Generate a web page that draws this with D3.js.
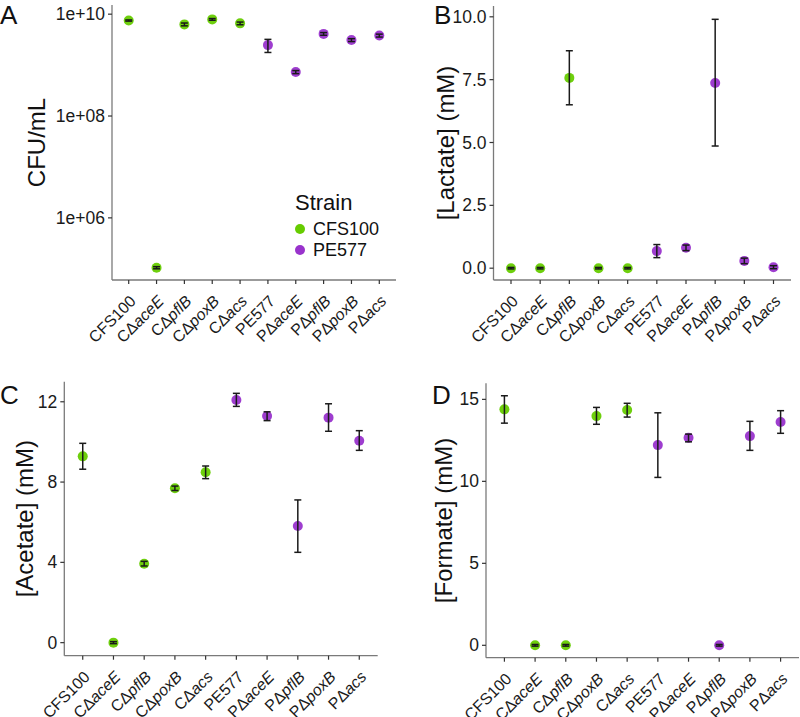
<!DOCTYPE html>
<html>
<head>
<meta charset="utf-8">
<script src="https://cdn.jsdelivr.net/npm/d3@7"></script>
<style>
  html, body { margin: 0; padding: 0; background: #fff; }
  text { font-family: "Liberation Sans", Arial, sans-serif; }
</style>
</head>
<body>
<svg id="chart" width="800" height="717"></svg>
<script>
// ---------------- DATA ----------------
const categories = ["CFS100", "CΔaceE", "CΔpflB", "CΔpoxB", "CΔacs",
                    "PE577", "PΔaceE", "PΔpflB", "PΔpoxB", "PΔacs"];
const strain = ["CFS100", "CFS100", "CFS100", "CFS100", "CFS100",
                "PE577", "PE577", "PE577", "PE577", "PE577"];
const strains = ["CFS100", "PE577"];

// Panel A: CFU/mL
const cfuMean = [7.5e9, 1.05e5, 6.3e9, 7.9e9, 6.6e9, 2.47e9, 7.3e8, 4.1e9, 3.1e9, 3.8e9];
const cfuLow  = [7.3e9, 1.0e5, 5.9e9, 7.6e9, 6.2e9, 1.77e9, 6.8e8, 3.85e9, 2.9e9, 3.55e9];
const cfuHigh = [7.7e9, 1.1e5, 6.7e9, 8.2e9, 7.0e9, 3.2e9, 7.8e8, 4.35e9, 3.3e9, 4.05e9];
const cfuTicks = [1e6, 1e8, 1e10];
const cfuTickLabels = ["1e+06", "1e+08", "1e+10"];

// Panel B: Lactate (mM)
const lacMean = [0, 0, 7.57, 0, 0, 0.68, 0.81, 7.37, 0.29, 0.04];
const lacLow  = [-0.03, -0.03, 6.5, -0.03, -0.03, 0.42, 0.70, 4.86, 0.18, -0.02];
const lacHigh = [0.03, 0.03, 8.65, 0.03, 0.03, 0.94, 0.92, 9.9, 0.40, 0.10];
const lacTicks = [0, 2.5, 5, 7.5, 10];

// Panel C: Acetate (mM)
const aceMean = [9.28, 0, 3.93, 7.69, 8.49, 12.09, 11.29, 5.81, 11.21, 10.06];
const aceLow  = [8.64, -0.05, 3.82, 7.58, 8.17, 11.77, 11.06, 4.50, 10.53, 9.58];
const aceHigh = [9.93, 0.05, 4.05, 7.80, 8.80, 12.42, 11.50, 7.11, 11.90, 10.56];
const aceTicks = [0, 4, 8, 12];

// Panel D: Formate (mM)
const forMean = [14.39, 0, 0, 13.98, 14.35, 12.21, 12.66, 0, 12.76, 13.62];
const forLow  = [13.55, -0.05, -0.05, 13.48, 13.92, 10.24, 12.41, -0.05, 11.89, 12.93];
const forHigh = [15.22, 0.05, 0.05, 14.51, 14.76, 14.18, 12.88, 0.05, 13.66, 14.31];
const forTicks = [0, 5, 10, 15];

// ---------------- DRAWING ----------------
const svg = d3.select("#chart");
const color = d3.scaleOrdinal().domain(strains).range(["#66CC00", "#9933CC"]);

function drawPanel(cfg) {
  const g = svg.append("g");
  const x = d3.scalePoint().domain(categories).range([cfg.left, cfg.right]).padding(0.6);
  const y = cfg.y;

  // axis lines
  g.append("line").attr("x1", cfg.left).attr("x2", cfg.left)
    .attr("y1", cfg.top).attr("y2", cfg.bottom)
    .attr("stroke", "#7a7a7a").attr("stroke-width", 1.3);
  g.append("line").attr("x1", cfg.left).attr("x2", cfg.right)
    .attr("y1", cfg.bottom).attr("y2", cfg.bottom)
    .attr("stroke", "#7a7a7a").attr("stroke-width", 1.3);

  // y ticks
  const yt = g.selectAll(".yt").data(cfg.ticks).enter().append("g")
    .attr("transform", d => `translate(${cfg.left},${y(d)})`);
  yt.append("line").attr("x1", -4).attr("x2", 0).attr("stroke", "#333").attr("stroke-width", 1.2);
  yt.append("text").attr("x", -7).attr("dy", "0.35em").attr("text-anchor", "end")
    .attr("font-size", 17.5).attr("fill", "#1a1a1a")
    .text((d, i) => cfg.tickLabels[i]);

  // x ticks
  const xt = g.selectAll(".xt").data(categories).enter().append("g")
    .attr("transform", d => `translate(${x(d)},${cfg.bottom})`);
  xt.append("line").attr("y1", 0).attr("y2", 4).attr("stroke", "#333").attr("stroke-width", 1.2);
  const lbl = xt.append("text")
    .attr("text-anchor", "end")
    .attr("transform", "translate(0,14) rotate(-45)")
    .attr("dy", "0.72em")
    .attr("font-size", 16).attr("fill", "#1a1a1a");
  lbl.each(function(d) {
    const t = d3.select(this);
    if (d.includes("Δ")) {
      t.append("tspan").text(d.slice(0, 2));
      t.append("tspan").attr("font-style", "italic").text(d.slice(2));
    } else {
      t.text(d);
    }
  });

  // points
  g.selectAll(".pt").data(categories).enter().append("circle")
    .attr("cx", d => x(d)).attr("cy", (d, i) => y(cfg.mean[i]))
    .attr("r", 5).attr("fill", (d, i) => color(strain[i])).attr("fill-opacity", 0.95);

  // error bars
  const eb = g.selectAll(".eb").data(categories).enter().append("g");
  eb.append("line").attr("x1", d => x(d)).attr("x2", d => x(d))
    .attr("y1", (d, i) => y(cfg.low[i])).attr("y2", (d, i) => y(cfg.high[i]))
    .attr("stroke", "#1a1a1a").attr("stroke-width", 1.5);
  eb.append("line").attr("x1", d => x(d) - 3.5).attr("x2", d => x(d) + 3.5)
    .attr("y1", (d, i) => y(cfg.low[i])).attr("y2", (d, i) => y(cfg.low[i]))
    .attr("stroke", "#1a1a1a").attr("stroke-width", 1.5);
  eb.append("line").attr("x1", d => x(d) - 3.5).attr("x2", d => x(d) + 3.5)
    .attr("y1", (d, i) => y(cfg.high[i])).attr("y2", (d, i) => y(cfg.high[i]))
    .attr("stroke", "#1a1a1a").attr("stroke-width", 1.5);

  // y title
  g.append("text")
    .attr("transform", `translate(${cfg.titleX},${(cfg.top + cfg.bottom) / 2}) rotate(-90)`)
    .attr("text-anchor", "middle").attr("dy", "0.35em")
    .attr("font-size", 24).attr("fill", "#111")
    .text(cfg.title);

  // panel letter
  g.append("text").attr("x", cfg.letterX).attr("y", cfg.letterY)
    .attr("font-size", 26).attr("fill", "#111").text(cfg.letter);
}

drawPanel({
  left: 112, right: 396, top: 5, bottom: 280,
  y: d3.scaleLog().domain([Math.pow(10, 4.78), Math.pow(10, 10.18)]).range([280, 5]),
  ticks: cfuTicks, tickLabels: cfuTickLabels,
  mean: cfuMean, low: cfuLow, high: cfuHigh,
  title: "CFU/mL", titleX: 37, letter: "A", letterX: 0, letterY: 24
});

drawPanel({
  left: 493.5, right: 791, top: 6, bottom: 280,
  y: d3.scaleLinear().domain([-0.47, 10.43]).range([280, 6]),
  ticks: lacTicks, tickLabels: lacTicks.map(d3.format(".1f")),
  mean: lacMean, low: lacLow, high: lacHigh,
  title: "[Lactate] (mM)", titleX: 446, letter: "B", letterX: 434, letterY: 24
});

drawPanel({
  left: 64.3, right: 377.7, top: 381.7, bottom: 655.7,
  y: d3.scaleLinear().domain([-0.65, 13.0]).range([655.7, 381.7]),
  ticks: aceTicks, tickLabels: aceTicks.map(String),
  mean: aceMean, low: aceLow, high: aceHigh,
  title: "[Acetate] (mM)", titleX: 25, letter: "C", letterX: 0, letterY: 404
});

drawPanel({
  left: 486, right: 799, top: 383.3, bottom: 657.7,
  y: d3.scaleLinear().domain([-0.756, 15.98]).range([657.7, 383.3]),
  ticks: forTicks, tickLabels: forTicks.map(String),
  mean: forMean, low: forLow, high: forHigh,
  title: "[Formate] (mM)", titleX: 444, letter: "D", letterX: 432, letterY: 404
});

// legend in panel A
const leg = svg.append("g");
leg.append("text").attr("x", 295).attr("y", 210).attr("font-size", 22).attr("fill", "#111").text("Strain");
const li = leg.selectAll(".li").data(strains).enter().append("g")
  .attr("transform", (d, i) => `translate(300,${229 + i * 21})`);
li.append("circle").attr("r", 5).attr("fill", d => color(d));
li.append("text").attr("x", 13).attr("dy", "0.35em").attr("font-size", 18).attr("fill", "#111").text(d => d);
</script>
</body>
</html>
